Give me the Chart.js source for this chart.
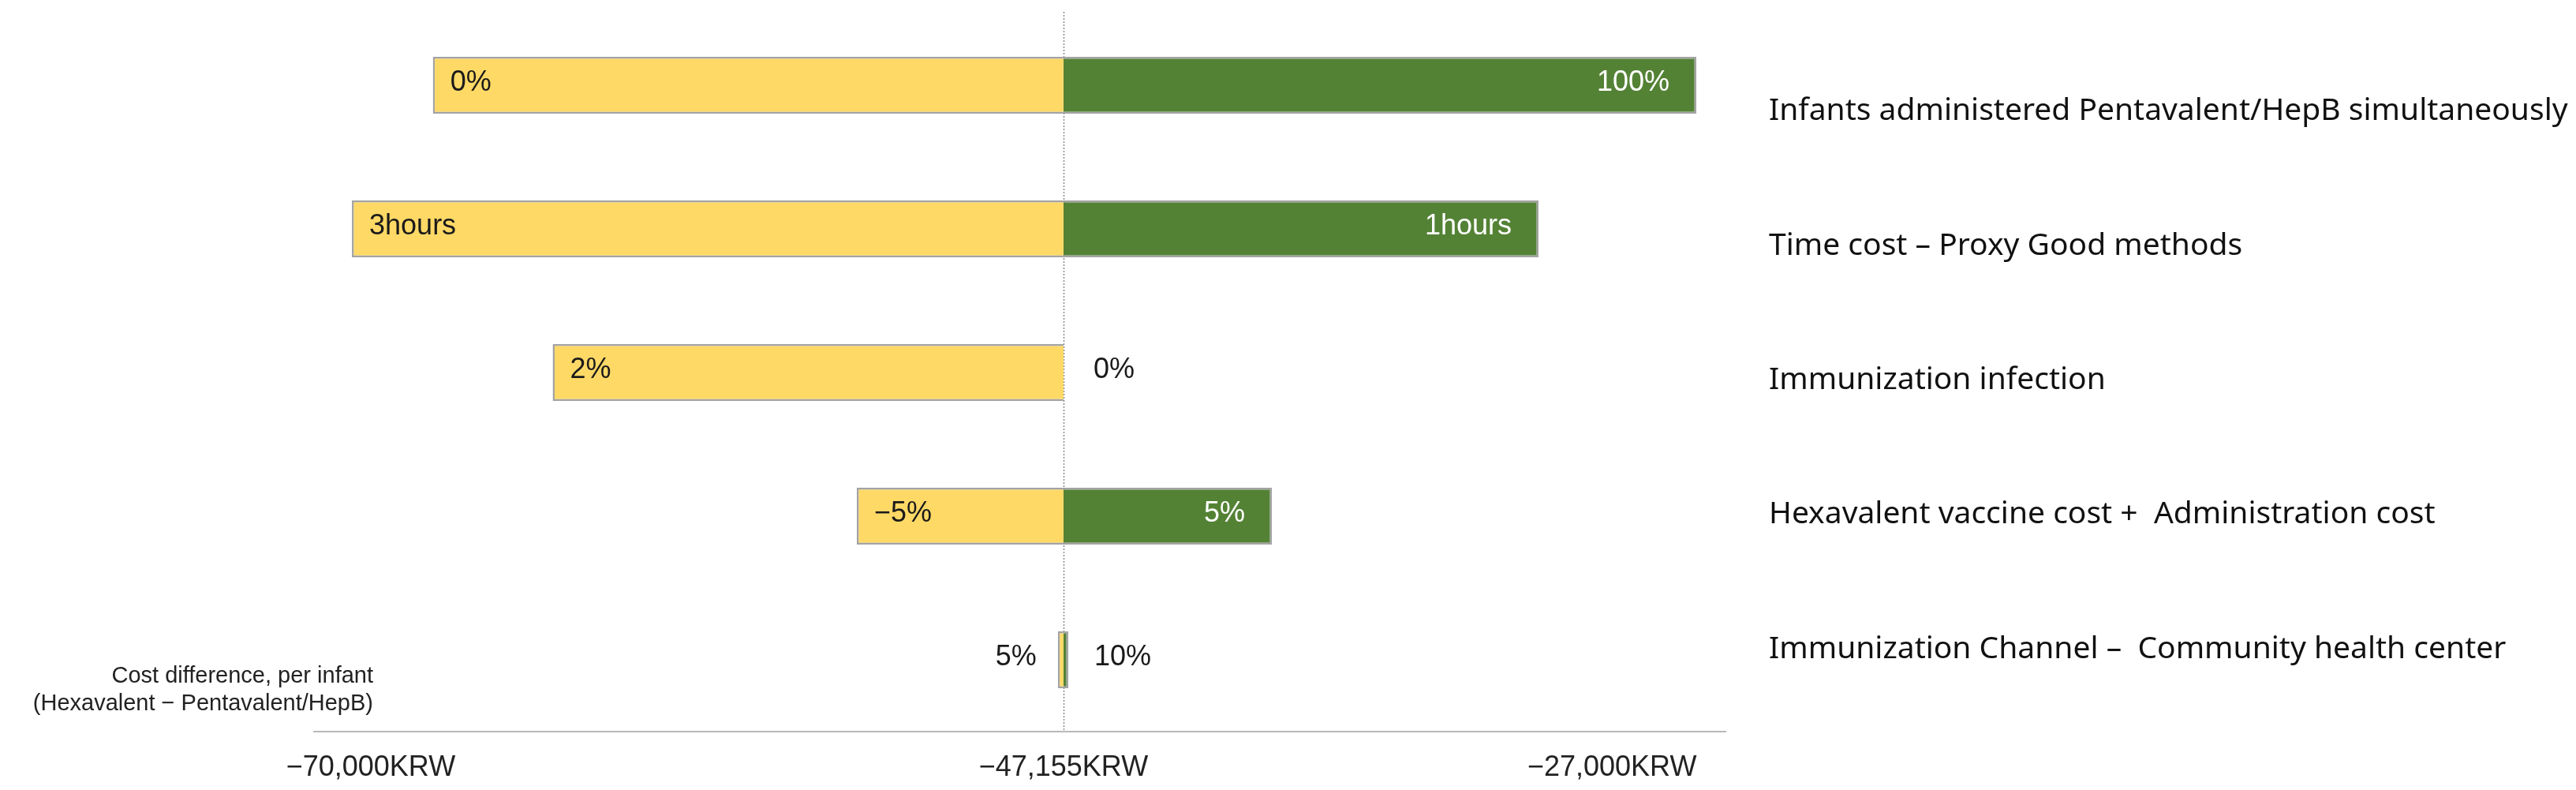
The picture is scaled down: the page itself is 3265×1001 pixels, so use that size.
<!DOCTYPE html>
<html>
<head>
<meta charset="utf-8">
<script src="https://cdn.jsdelivr.net/npm/chart.js@4.4.1/dist/chart.umd.min.js"></script>
<style>
  html, body { margin: 0; padding: 0; background: #fff; }
  #wrap { width: 3265px; height: 1001px; position: relative; }
</style>
</head>
<body>
<div id="wrap"><canvas id="tornado"></canvas></div>
<script>
// categories (top to bottom)
const categories = [
  'Infants administered Pentavalent/HepB simultaneously',
  'Time cost \u2013 Proxy Good methods',
  'Immunization infection',
  'Hexavalent vaccine cost +  Administration cost',
  'Immunization Channel \u2013  Community health center'
];

// base case cost difference (KRW)
const baseCost = -47155;

// bar ends, KRW
const lowEnd  = [-67950, -70620, -64000, -53970, -47340];   // yellow
const highEnd = [-23900, -29700, -47155, -39500, -46980];   // green

// text shown on the bars
const lowLabels  = ['0%', '3hours', '2%', '\u22125%', '5%'];
const highLabels = ['100%', '1hours', '0%', '5%', '10%'];

// x axis ticks
const tickValues = [-70000, -47155, -27000];
const tickLabels = ['\u221270,000KRW', '\u221247,155KRW', '\u221227,000KRW'];

const axisTitle = ['Cost difference, per infant', '(Hexavalent \u2212 Pentavalent/HepB)'];

const labelFont = '"Liberation Sans", Arial, sans-serif';
const catFont = '"Noto Sans", "Open Sans", sans-serif';

// the axis labels are not evenly spaced, so the value axis is linear on each
// side of the base case
class SplitLinearScale extends Chart.LinearScale {
  getPixelForValue(value) {
    const mid = this.options.midValue;
    const midPx = this.left + this.width * this.options.midFraction;
    if (value <= mid) {
      return this.left + (midPx - this.left) * (value - this.min) / (mid - this.min);
    }
    return midPx + (this.right - midPx) * (value - mid) / (this.max - mid);
  }
}
SplitLinearScale.id = 'splitLinear';
SplitLinearScale.defaults = Chart.LinearScale.defaults;

// category labels on the right sit a little tighter than the bars
class SpreadCategoryScale extends Chart.CategoryScale {
  getPixelForTick(index) {
    const px = super.getPixelForTick(index);
    const mid = (this.top + this.bottom) / 2;
    return mid + (px - mid) * this.options.tickSpread + this.options.tickShift;
  }
}
SpreadCategoryScale.id = 'spreadCategory';
SpreadCategoryScale.defaults = Chart.CategoryScale.defaults;

Chart.register(SplitLinearScale, SpreadCategoryScale);

const baseLine = {
  id: 'baseLine',
  beforeDatasetsDraw(chart) {
    const {ctx, chartArea, scales} = chart;
    const x = Math.round(scales.x.getPixelForValue(baseCost)) + 0.5;
    ctx.save();
    ctx.strokeStyle = '#8a8a8a';
    ctx.lineWidth = 1.5;
    ctx.setLineDash([2, 2]);
    ctx.beginPath();
    ctx.moveTo(x, chartArea.top - 2);
    ctx.lineTo(x, chartArea.bottom);
    ctx.stroke();
    ctx.restore();
  }
};

const barText = {
  id: 'barText',
  afterDatasetsDraw(chart) {
    const {ctx} = chart;
    ctx.save();
    ctx.font = '36px ' + labelFont;
    ctx.textBaseline = 'middle';
    chart.getDatasetMeta(0).data.forEach((bar, i) => {
      const w = bar.base - bar.x;
      ctx.fillStyle = '#1a1a1a';
      if (w > 80) {
        ctx.textAlign = 'left';
        ctx.fillText(lowLabels[i], bar.x + 22, bar.y - 3);
      } else {
        ctx.textAlign = 'right';
        ctx.fillText(lowLabels[i], bar.x - 27, bar.y - 3);
      }
    });
    chart.getDatasetMeta(1).data.forEach((bar, i) => {
      const w = bar.x - bar.base;
      if (w > 80) {
        ctx.fillStyle = '#ffffff';
        ctx.textAlign = 'right';
        ctx.fillText(highLabels[i], bar.x - 34, bar.y - 3);
      } else {
        ctx.fillStyle = '#1a1a1a';
        ctx.textAlign = 'left';
        ctx.fillText(highLabels[i], Math.max(bar.x + 33, bar.base + 38), bar.y - 3);
      }
    });
    ctx.restore();
  }
};

const cornerTitle = {
  id: 'cornerTitle',
  afterDraw(chart) {
    const {ctx, chartArea} = chart;
    ctx.save();
    ctx.font = '29px ' + labelFont;
    ctx.fillStyle = '#222';
    ctx.textAlign = 'right';
    ctx.textBaseline = 'middle';
    ctx.fillText(axisTitle[0], chartArea.left + 75, chartArea.bottom - 70);
    ctx.fillText(axisTitle[1], chartArea.left + 75, chartArea.bottom - 35);
    ctx.restore();
  }
};

new Chart(document.getElementById('tornado'), {
  type: 'bar',
  data: {
    labels: categories,
    datasets: [
      {
        label: 'Low',
        data: lowEnd,
        base: baseCost,
        backgroundColor: '#ffd966',
        borderColor: '#a3a3a3',
        borderWidth: 2.5
      },
      {
        label: 'High',
        data: highEnd,
        base: baseCost,
        backgroundColor: '#548235',
        borderColor: '#a3a3a3',
        borderWidth: 2.5
      }
    ]
  },
  options: {
    indexAxis: 'y',
    responsive: true,
    maintainAspectRatio: false,
    animation: false,
    events: [],
    grouped: false,
    categoryPercentage: 1,
    barPercentage: 0.423,
    layout: { padding: { left: 398, top: 17, right: 0, bottom: 0 } },
    plugins: {
      legend: { display: false },
      tooltip: { enabled: false }
    },
    scales: {
      x: {
        type: 'splitLinear',
        min: -71870,
        max: -22830,
        midValue: baseCost,
        midFraction: 0.531,
        grid: { display: false },
        border: { display: true, color: '#b8b8b8', width: 2 },
        afterBuildTicks: scale => {
          scale.ticks = tickValues.map(value => ({ value }));
        },
        afterFit: scale => { scale.height = 74; },
        ticks: {
          autoSkip: false,
          maxRotation: 0,
          padding: 16,
          color: '#222',
          font: { family: labelFont, size: 36 },
          callback: (value, index) => tickLabels[index]
        }
      },
      y: {
        type: 'spreadCategory',
        position: 'right',
        tickSpread: 0.936,
        tickShift: 10,
        grid: { display: false },
        border: { display: false },
        afterFit: scale => {
          scale.width = 1078;
          scale.paddingTop = 0;
          scale.paddingBottom = 0;
        },
        ticks: {
          padding: 47,
          color: '#111',
          font: { family: catFont, size: 39 }
        }
      }
    }
  },
  plugins: [baseLine, barText, cornerTitle]
});
</script>
</body>
</html>
